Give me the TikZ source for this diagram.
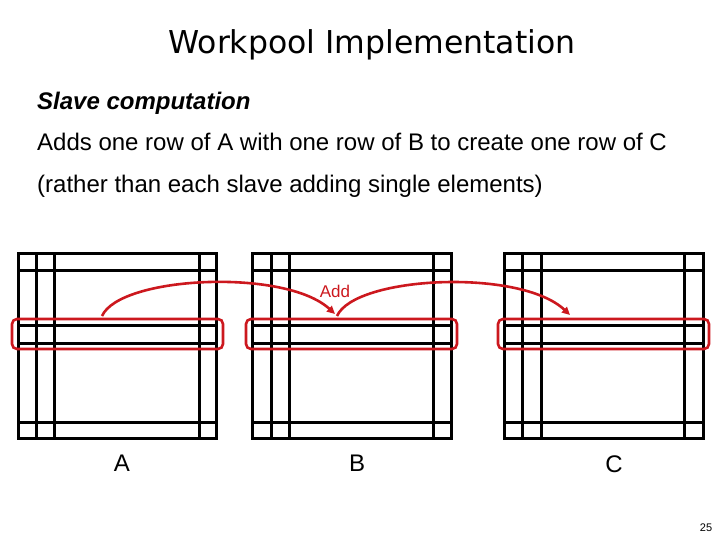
\documentclass[tikz,border=0pt]{standalone}
\usepackage{fontspec}
\setmainfont{Liberation Sans}
\newfontfamily\titlefont{DejaVu Sans}
\usetikzlibrary{arrows.meta}
\definecolor{rowred}{RGB}{204,24,30}
\tikzset{
  gridline/.style={line width=3pt, black},
  rowbox/.style={draw=rowred, line width=2.6pt, rounded corners=5pt, minimum width=211pt, minimum height=30pt, inner sep=0pt},
  addarrow/.style={draw=rowred, line width=2.6pt, -{Triangle[length=8pt,width=7.5pt]}},
  bodytext/.style={anchor=base west, inner sep=0pt, font=\fontsize{24}{28}\selectfont},
  matlabel/.style={anchor=base, inner sep=0pt, font=\fontsize{24}{28}\selectfont}
}
\begin{document}
\begin{tikzpicture}[x=1pt,y=-1pt]
\useasboundingbox (0,0) rectangle (720,540);
\node[anchor=base, inner sep=0pt, font=\titlefont\fontsize{31.5}{36}\selectfont] (title) at (372,54) {Workpool Implementation};
\node[bodytext, font=\fontsize{24}{28}\selectfont\bfseries\itshape] (sub) at (37,110) {Slave computation};
\node[bodytext] (line1) at (37,151) {Adds one row of A with one row of B to create one row of C};
\node[bodytext] (line2) at (37,193) {(rather than each slave adding single elements)};

\foreach \a/\b/\c/\d/\e in {18/36/54/199/216, 252/271/289/433/451, 504/522/541/684/703} {
  \draw[gridline] (\a,253) rectangle (\e,438);
  \foreach \x in {\b,\c,\d} \draw[gridline] (\x,253) -- (\x,438);
  \foreach \y in {270,325,343,422} \draw[gridline] (\a,\y) -- (\e,\y);
}

\node[rowbox] (rowA) at (117.5,334) {};
\node[rowbox] (rowB) at (351.5,334) {};
\node[rowbox] (rowC) at (603.5,334) {};

\coordinate (sA) at (102,316);
\coordinate (eB) at (335,314);
\coordinate (sB) at (337,316);
\coordinate (eC) at (570,315);
\draw[addarrow] (sA) .. controls (120,276) and (285,268) .. (eB);
\draw[addarrow] (sB) .. controls (355,276) and (520,268) .. (eC);

\node[anchor=base, inner sep=0pt, text=rowred, font=\fontsize{17}{20}\selectfont] (add) at (335,297) {Add};

\node[matlabel] (labA) at (122,471) {A};
\node[matlabel] (labB) at (357,471) {B};
\node[matlabel] (labC) at (614,472) {C};
\node[anchor=base, inner sep=0pt, font=\fontsize{11}{13}\selectfont] (page) at (706,531) {25};
\end{tikzpicture}
\end{document}
